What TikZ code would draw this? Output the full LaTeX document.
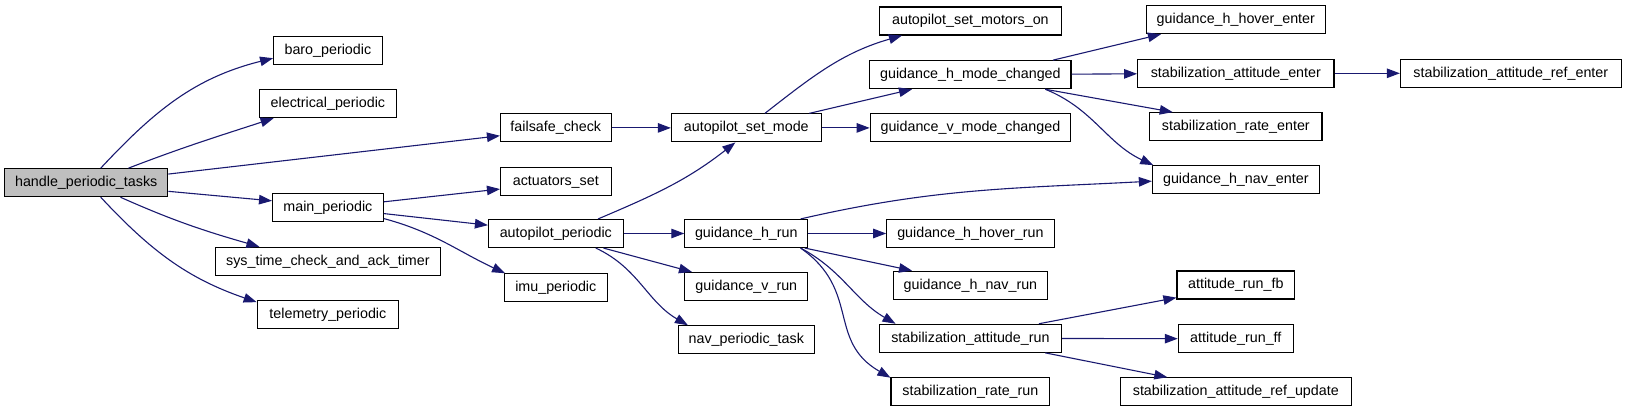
\documentclass[tikz,border=0pt]{standalone}
\usepackage{fontspec}
\setmainfont{Liberation Sans}
\usetikzlibrary{arrows.meta}
\definecolor{CallBlue}{RGB}{25,25,112}
\definecolor{RootGray}{RGB}{191,191,191}

\begin{document}
\begin{tikzpicture}[x=1pt,y=1pt,
	fnbox/.style={draw=black,line width=1.1pt,fill=white,inner sep=0pt,
		minimum height=28pt,text height=11pt,text depth=3pt,
		font=\fontsize{14.3}{17}\selectfont},
	call/.style={-{Triangle[length=13pt,width=9.5pt]},CallBlue,line width=1.1pt}]
				
				\useasboundingbox (0,0) rectangle (1627,412);
				
				% column 0
				\node[fnbox,fill=RootGray,minimum width=163.3pt] (HPT) at (86.2,229.3) {handle\_periodic\_tasks};
				
				% column 1
				\node[fnbox,minimum width=108.6pt] (BARO) at (327.9,361.5) {baro\_periodic};
				\node[fnbox,minimum width=136.4pt] (ELEC) at (327.9,308.3) {electrical\_periodic};
				\node[fnbox,minimum width=110.7pt] (MAIN) at (327.9,204.3) {main\_periodic};
				\node[fnbox,minimum width=224.3pt] (SYS) at (327.9,150.7) {sys\_time\_check\_and\_ack\_timer};
				\node[fnbox,minimum width=141.4pt] (TELE) at (327.9,97.3) {telemetry\_periodic};
				
				% column 2
				\node[fnbox,minimum width=110.6pt] (FAIL) at (555.8,284.1) {failsafe\_check};
				\node[fnbox,minimum width=110.6pt] (ACT) at (555.8,230.8) {actuators\_set};
				\node[fnbox,minimum width=134.7pt] (APER) at (555.8,178.5) {autopilot\_periodic};
				\node[fnbox,minimum width=102.9pt] (IMU) at (555.8,124.2) {imu\_periodic};
				
				% column 3
				\node[fnbox,minimum width=149.8pt] (ASM) at (746.3,284.1) {autopilot\_set\_mode};
				\node[fnbox,minimum width=122.9pt] (GHR) at (746.3,178.5) {guidance\_h\_run};
				\node[fnbox,minimum width=122.9pt] (GVR) at (746.3,125.5) {guidance\_v\_run};
				\node[fnbox,minimum width=135.9pt] (NAV) at (746.3,72.2) {nav\_periodic\_task};
				
				% column 4
				\node[fnbox,minimum width=181.6pt] (ASMO) at (970.4,391) {autopilot\_set\_motors\_on};
				\node[fnbox,minimum width=201.2pt] (GHMC) at (970.4,337.3) {guidance\_h\_mode\_changed};
				\node[fnbox,minimum width=200.4pt] (GVMC) at (970.4,284.1) {guidance\_v\_mode\_changed};
				\node[fnbox,minimum width=167.3pt] (GHHR) at (970.4,178.5) {guidance\_h\_hover\_run};
				\node[fnbox,minimum width=153.9pt] (GHNR) at (970.4,126.8) {guidance\_h\_nav\_run};
				\node[fnbox,minimum width=182.4pt] (SAR) at (970.4,73.7) {stabilization\_attitude\_run};
				\node[fnbox,minimum width=158.8pt] (SRR) at (970.4,20.2) {stabilization\_rate\_run};
				
				% column 5
				\node[fnbox,minimum width=178.8pt] (GHHE) at (1235.8,392.3) {guidance\_h\_hover\_enter};
				\node[fnbox,minimum width=196.4pt] (SAE) at (1235.8,338.7) {stabilization\_attitude\_enter};
				\node[fnbox,minimum width=172.4pt] (SRE) at (1235.8,285.3) {stabilization\_rate\_enter};
				\node[fnbox,minimum width=166.8pt] (GHNE) at (1235.8,232.3) {guidance\_h\_nav\_enter};
				\node[fnbox,minimum width=117.7pt] (ARFB) at (1235.8,127) {attitude\_run\_fb};
				\node[fnbox,minimum width=115pt] (ARFF) at (1235.8,73.2) {attitude\_run\_ff};
				\node[fnbox,minimum width=230.8pt] (SARU) at (1235.8,20.2) {stabilization\_attitude\_ref\_update};
				
				% column 6
				\node[fnbox,minimum width=220.8pt] (SARE) at (1510.8,338.7) {stabilization\_attitude\_ref\_enter};
				
				% calls
				\draw[call] (HPT.45) to[out=47,in=194] (BARO.188);
				\draw[call] (HPT.19.5) to[out=21,in=198] (ELEC.195);
				\draw[call] (HPT.6.6) -- (FAIL.188.4);
				\draw[call] (HPT.-6.1) -- (MAIN.173.6);
				\draw[call] (HPT.-23.8) to[out=-24,in=164] (SYS.168.5);
				\draw[call] (HPT.-45.4) to[out=-47,in=161] (TELE.170);
				
				\draw[call] (MAIN.6.9) -- (ACT.188);
				\draw[call] (MAIN.-6.5) -- (APER.173.4);
				\draw[call] (MAIN.-11.5) to[out=-15,in=155] (IMU.164);
				
				\draw[call] (FAIL) -- (ASM);
				\draw[call] (APER.19.3) to[out=23,in=218] (ASM.233);
				\draw[call] (APER) -- (GHR);
				\draw[call] (APER.-17.4) -- (GVR.165.2);
				\draw[call] (APER.-20) to[out=-25,in=150] (NAV.166);
				
				\draw[call] (ASM.38) to[out=38,in=196] (ASMO.192);
				\draw[call] (ASM.13.2) -- (GHMC.194);
				\draw[call] (ASM) -- (GVMC);
				
				\draw[call] (GHR.15.6) to[out=13,in=183] (GHNE.181.8);
				\draw[call] (GHR) -- (GHHR);
				\draw[call] (GHR.-14.9) -- (GHNR.166);
				\draw[call] (GHR.-15.3) to[out=-28,in=150] (SAR.169);
				\draw[call] (GHR.-15.6) to[out=-35,in=150,looseness=1.2] (SRR.170);
				
				\draw[call] (GHMC.10.8) -- (GHHE.191);
				\draw[call] (GHMC) -- (SAE);
				\draw[call] (GHMC.-11.3) -- (SRE.167.6);
				\draw[call] (GHMC.-11) to[out=-22,in=155] (GHNE.170.3);
				
				\draw[call] (SAE) -- (SARE);
				
				\draw[call] (SAR.12.2) -- (ARFB.192.4);
				\draw[call] (SAR) -- (ARFF);
				\draw[call] (SAR.-11.1) -- (SARU.168.9);
				
\end{tikzpicture}
\end{document}
